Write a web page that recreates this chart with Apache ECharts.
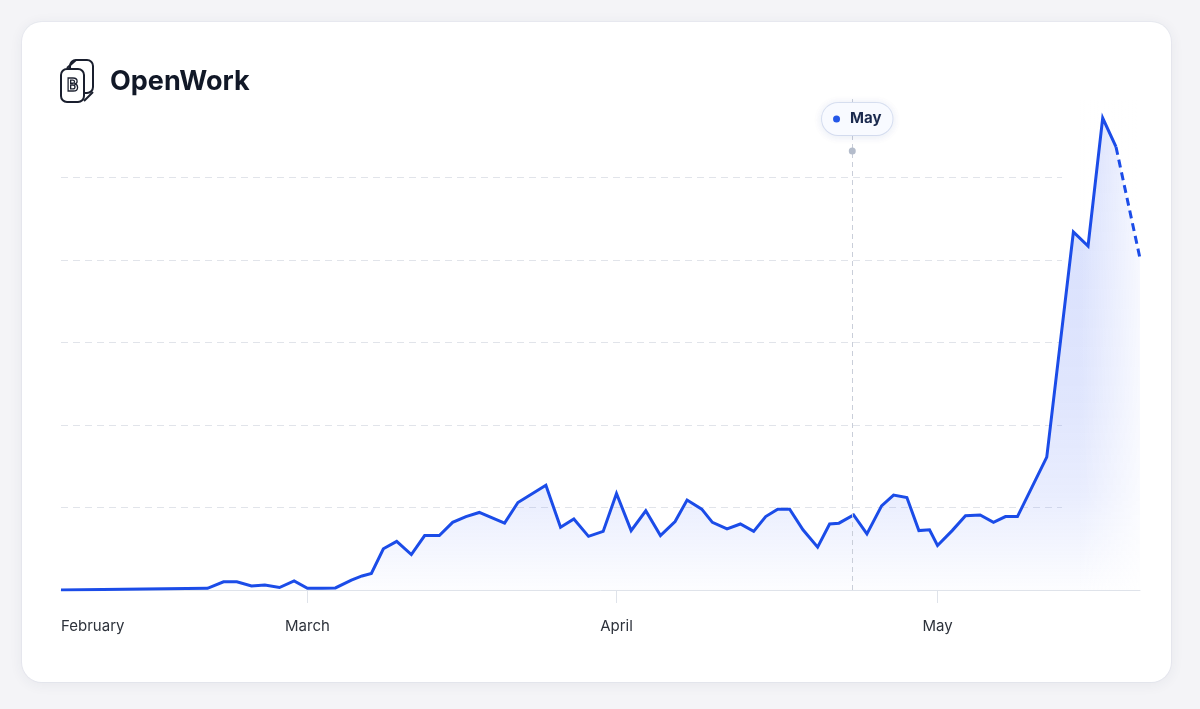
<!DOCTYPE html>
<html>
<head>
<meta charset="utf-8">
<script src="https://cdn.jsdelivr.net/npm/echarts@6/dist/echarts.min.js"></script>
<style>
  html, body { margin: 0; padding: 0; width: 1200px; height: 709px; overflow: hidden; background: #f4f4f7; font-family: Inter, "Noto Sans", sans-serif; }
  #card { position: absolute; left: 22px; top: 22px; width: 1149px; height: 660px; background: #ffffff; border-radius: 20px; box-shadow: 0 2px 14px rgba(40, 50, 90, 0.07), 0 0 0 1px rgba(230, 232, 240, 0.6); }
  #chart { position: absolute; left: 0; top: 0; width: 1200px; height: 709px; }
</style>
</head>
<body>
<div id="card"></div>
<div id="chart"></div>
<script>
// ---- data ----
const titleText = 'OpenWork';
const monthNames = ['February', 'March', 'April', 'May'];
const monthPos = [0, 18.5, 41.7, 65.8];          // axis positions of month labels
const xs = [0, 11.0, 12.2, 13.2, 14.3, 15.3, 16.4, 17.5, 18.5, 19.6, 20.6, 21.8, 22.6, 23.3,
  24.2, 25.2, 26.3, 27.3, 28.4, 29.4, 30.4, 31.4, 33.3, 34.3, 36.4, 37.5, 38.5, 39.6, 40.7,
  41.7, 42.8, 43.9, 45.0, 46.1, 47.0, 48.1, 48.9, 50.0, 51.0, 52.0, 52.9, 53.8, 54.7, 55.7,
  56.8, 57.7, 58.4, 59.5, 60.5, 61.6, 62.5, 63.5, 64.4, 65.2, 65.8, 66.9, 67.9, 69.0, 70.0,
  70.9, 71.8, 72.9, 74.0, 76.0, 77.1, 78.2, 79.2];
const ys = [0, 2, 10, 10, 5, 6, 3, 11, 2, 2, 2.5, 12, 17, 20,
  50, 59, 43, 66, 66, 82, 89, 94, 81, 106, 127, 76, 86, 65, 71,
  117, 72, 96, 66, 83, 109, 98, 82, 74, 80, 71, 89, 98, 98, 73,
  52, 80, 81, 91, 68, 102, 115, 112, 72, 73, 54, 72, 90, 91, 82,
  89, 89, 125, 161, 434, 417, 572, 537];
const projX = [79.2, 81.0];                        // incomplete last period (dashed)
const projY = [537, 402];
const markerX = 59.4;
const markerLabel = 'May';
const markerLabelY = 571;
const markerDotY = 532;
const gridTicks = { min: 0, max: 500, interval: 100 };

// ---- chart ----
const mainData = xs.map((x, i) => [x, ys[i]]);
const projData = projX.map((x, i) => [x, projY[i]]);
const lineColor = '#1b4ce8';
const areaGrad = new echarts.graphic.LinearGradient(0, 118, 0, 590, [
  { offset: 0, color: 'rgba(70,105,245,0.32)' },
  { offset: 0.6, color: 'rgba(70,105,245,0.24)' },
  { offset: 0.8, color: 'rgba(70,105,245,0.17)' },
  { offset: 1, color: 'rgba(70,105,245,0.02)' }
], true);
const fadeGrad = new echarts.graphic.LinearGradient(1080, 0, 1142, 0, [
  { offset: 0, color: 'rgba(255,255,255,0)' },
  { offset: 1, color: 'rgba(255,255,255,0.8)' }
], true);

const chart = echarts.init(document.getElementById('chart'), null, { renderer: 'canvas' });
chart.setOption({
  animation: false,
  backgroundColor: 'transparent',
  textStyle: { fontFamily: 'Inter, "Noto Sans", sans-serif' },
  title: {
    text: titleText, left: 110, top: 68, padding: 0,
    textStyle: { fontSize: 27, fontWeight: 700, color: '#111827', fontFamily: 'Inter' }
  },
  graphic: [
    { type: 'rect', shape: { x: 70, y: 60, width: 23, height: 33, r: 6 }, style: { fill: '#fff', stroke: '#1a1f2e', lineWidth: 2 }, z: 10 },
    { type: 'polyline', shape: { points: [[67, 68], [76, 60]] }, style: { stroke: '#1a1f2e', lineWidth: 2, fill: null }, z: 10 },
    { type: 'polyline', shape: { points: [[84, 101], [93, 92]] }, style: { stroke: '#1a1f2e', lineWidth: 2, fill: null }, z: 10 },
    { type: 'rect', shape: { x: 61, y: 69, width: 23, height: 33, r: 6 }, style: { fill: '#fff', stroke: '#1a1f2e', lineWidth: 2 }, z: 11 },
    { type: 'text', x: 72.5, y: 85.5, style: { text: 'B', fill: 'none', stroke: '#1a1f2e', lineWidth: 1.3, font: 'bold 17px Inter', align: 'center', verticalAlign: 'middle' }, z: 12 },
    { type: 'rect', shape: { x: 1080, y: 100, width: 62, height: 490 }, style: { fill: fadeGrad }, z: 2, silent: true }
  ],
  grid: [
    { left: 61, right: 60, top: 95, bottom: 119 },
    { left: 61, right: 138, top: 177.5, bottom: 119 }
  ],
  xAxis: [
    {
      type: 'value', gridIndex: 0, min: 0, max: 81,
      axisLine: { show: true, lineStyle: { color: '#dfe3ea', width: 1 } },
      axisTick: { show: true, customValues: monthPos.slice(1), length: 13, lineStyle: { color: '#dfe3ea' } },
      splitLine: { show: false },
      axisLabel: {
        show: true, customValues: monthPos, margin: 29, color: '#2d323b', fontSize: 15,
        fontFamily: 'Inter', alignMinLabel: 'left',
        formatter: (v) => { const i = monthPos.findIndex(p => Math.abs(p - v) < 1e-6); return i >= 0 ? monthNames[i] : ''; }
      }
    },
    { type: 'value', gridIndex: 1, min: 0, max: 1, show: false }
  ],
  yAxis: [
    { type: 'value', gridIndex: 0, min: 0, max: 600, show: false, splitLine: { show: false } },
    {
      type: 'value', gridIndex: 1, min: gridTicks.min, max: gridTicks.max, interval: gridTicks.interval,
      axisLine: { show: false }, axisTick: { show: false }, axisLabel: { show: false },
      splitLine: { show: true, lineStyle: { color: '#e1e4ea', type: [7, 5], width: 1 } }
    }
  ],
  series: [
    {
      // filled area only (under the fade overlay)
      type: 'line', xAxisIndex: 0, yAxisIndex: 0, data: mainData.concat([projData[1]]),
      symbol: 'none', z: 1, silent: true,
      lineStyle: { width: 0 },
      areaStyle: { color: areaGrad, origin: 'start' }
    },
    {
      type: 'line', xAxisIndex: 0, yAxisIndex: 0, data: mainData,
      symbol: 'none', z: 3,
      lineStyle: { color: lineColor, width: 3, join: 'miter' },
      markLine: {
        silent: true, symbol: ['none', 'none'], animation: false,
        label: { show: false },
        lineStyle: { type: [5, 4], color: '#c9ced9', width: 1 },
        data: [{ xAxis: markerX }]
      },
      markPoint: {
        silent: true, animation: false,
        data: [
          {
            coord: [markerX, markerLabelY], symbol: 'circle', symbolSize: 1,
            itemStyle: { color: 'rgba(0,0,0,0)' },
            label: {
              show: true, position: 'inside', offset: [5, 0],
              formatter: '{d|}{t|' + markerLabel + '}',
              backgroundColor: '#f8faff', borderColor: '#dde4f3', borderWidth: 1, borderRadius: 16,
              padding: [8, 11, 8, 11],
              shadowBlur: 8, shadowColor: 'rgba(40,70,160,0.10)', shadowOffsetY: 1,
              rich: {
                d: { width: 7, height: 7, borderRadius: 4, backgroundColor: '#2457e8' },
                t: { fontSize: 15, fontWeight: 700, color: '#1b2a4e', padding: [0, 0, 0, 10], fontFamily: 'Inter', lineHeight: 16 }
              }
            }
          },
          {
            coord: [markerX, markerDotY], symbol: 'circle', symbolSize: 7,
            itemStyle: { color: '#b4bccb' }, label: { show: false }
          }
        ]
      }
    },
    {
      type: 'line', xAxisIndex: 0, yAxisIndex: 0, data: projData,
      symbol: 'none', z: 3,
      lineStyle: { color: lineColor, width: 3, type: [8, 5] }
    }
  ]
});
</script>
</body>
</html>
